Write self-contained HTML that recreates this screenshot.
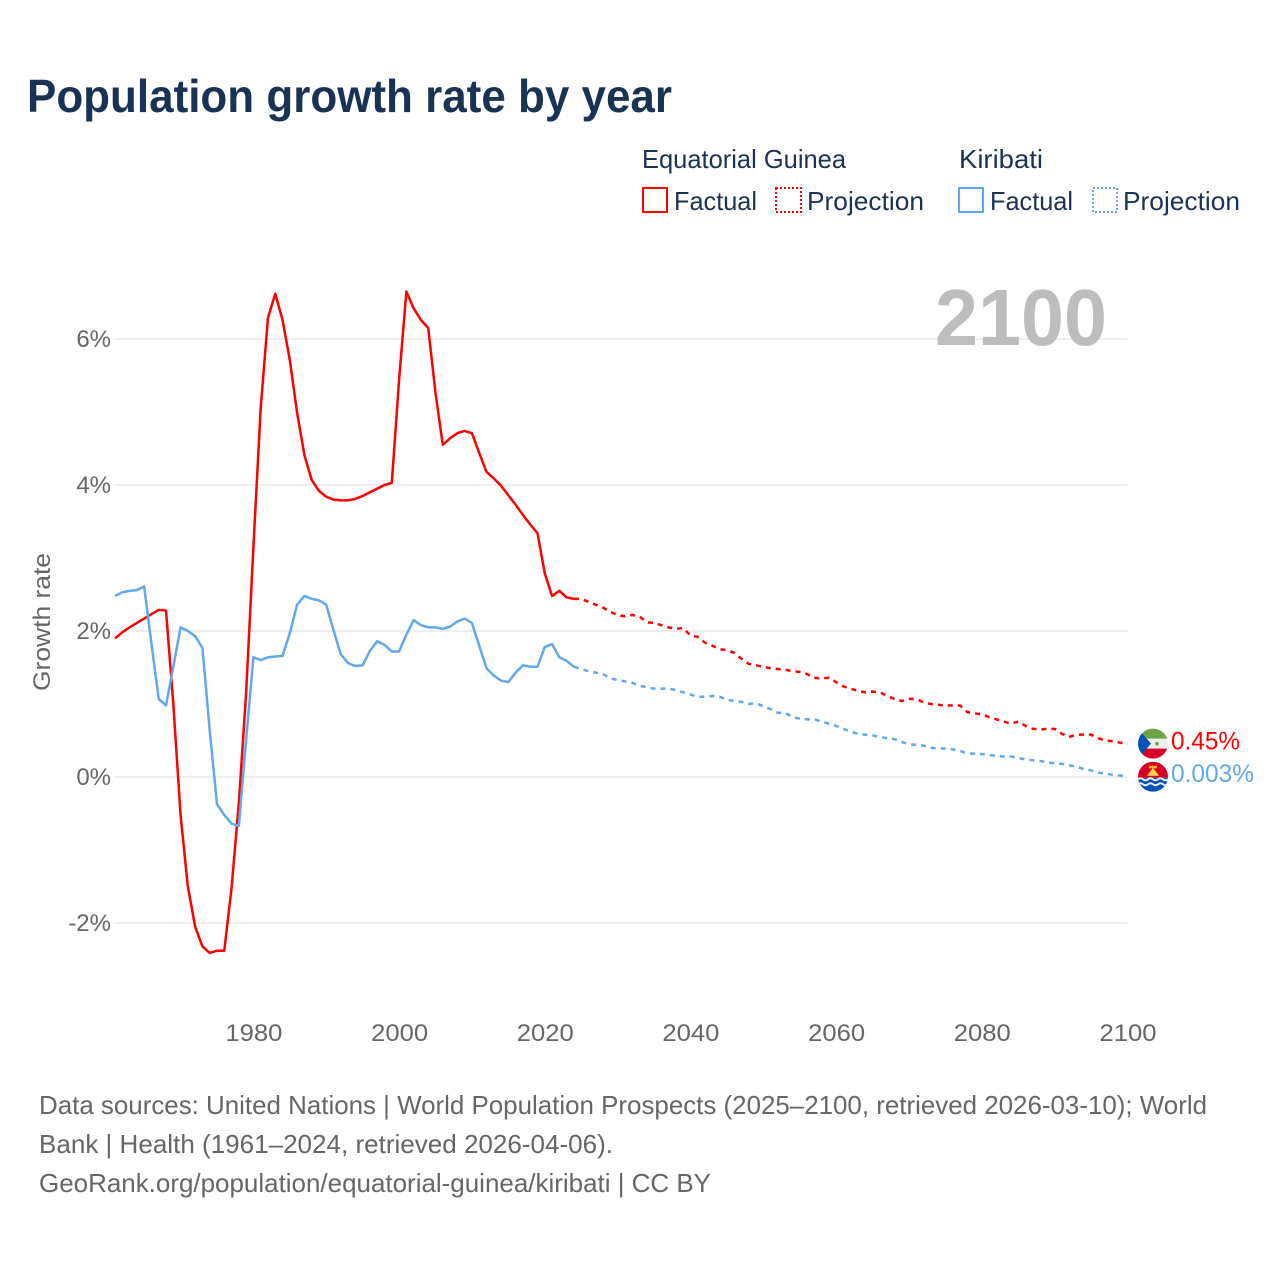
<!DOCTYPE html>
<html lang="en">
<head>
<meta charset="utf-8">
<title>Population growth rate by year</title>
<style>
html,body{margin:0;padding:0;background:#fff}
svg{display:block;font-family:"Liberation Sans",sans-serif}
</style>
</head>
<body>
<svg id="chart" xmlns="http://www.w3.org/2000/svg" width="1280" height="1280" viewBox="0 0 1280 1280">
  <defs>
    <clipPath id="flag-clip"><circle cx="0" cy="0" r="15"/></clipPath>
  </defs>
  <rect x="0" y="0" width="1280" height="1280" fill="#ffffff"/>
  <text x="27" y="112" font-size="46" font-weight="700" fill="#1a3355" textLength="645" lengthAdjust="spacingAndGlyphs">Population growth rate by year</text>

  <g font-size="26" fill="#1a3355">
    <text x="642" y="168" textLength="204" lengthAdjust="spacingAndGlyphs">Equatorial Guinea</text>
    <text x="959" y="168" textLength="84" lengthAdjust="spacingAndGlyphs">Kiribati</text>
    <rect x="643" y="188" width="24" height="24" fill="none" stroke="#ff0000" stroke-width="2"/>
    <text x="674" y="210" textLength="83" lengthAdjust="spacingAndGlyphs">Factual</text>
    <rect x="776" y="188" width="25" height="24" fill="none" stroke="#ff0000" stroke-width="2" stroke-dasharray="2 2"/>
    <text x="807" y="210" textLength="117" lengthAdjust="spacingAndGlyphs">Projection</text>
    <rect x="959" y="188" width="24" height="24" fill="none" stroke="#62a8ee" stroke-width="2"/>
    <text x="990" y="210" textLength="83" lengthAdjust="spacingAndGlyphs">Factual</text>
    <rect x="1093" y="188" width="24" height="24" fill="none" stroke="#62a8ee" stroke-width="2" stroke-dasharray="2 2"/>
    <text x="1123" y="210" textLength="117" lengthAdjust="spacingAndGlyphs">Projection</text>
  </g>

  <g id="grid"></g>
  <g id="y-labels"></g>
  <g id="x-labels"></g>
  <text x="935" y="345" font-size="80" font-weight="700" fill="#bdbdbd" textLength="172" lengthAdjust="spacingAndGlyphs">2100</text>
  <text transform="translate(50,622) rotate(-90)" text-anchor="middle" font-size="24" fill="#666666" textLength="138" lengthAdjust="spacingAndGlyphs">Growth rate</text>
  <g id="series"></g>

  <g id="flag-eq">
    <g clip-path="url(#flag-clip)">
      <rect x="-15" y="-15" width="30" height="30" fill="#eeeeee"/>
      <rect x="-15" y="-15" width="30" height="10" fill="#6da544"/>
      <rect x="-15" y="5" width="30" height="10" fill="#d80027"/>
      <polygon points="-15,-15 -15,15 -2,0" fill="#0052b4"/>
      <circle cx="4" cy="0" r="1.8" fill="#6da544"/>
    </g>
  </g>
  <g id="flag-ki">
    <g clip-path="url(#flag-clip)">
      <rect x="-15" y="-15" width="30" height="16" fill="#d80027"/>
      <rect x="-15" y="1" width="30" height="14" fill="#0052b4"/>
      <polygon points="-6,-1 0,-9 6,-1" fill="#ffda44"/>
      <rect x="-4" y="-11" width="8" height="2.5" fill="#ffb01f"/>
      <path d="M-15 2.5 q2.5 -2 5 0 t5 0 t5 0 t5 0 t5 0 t5 0" fill="none" stroke="#f0f0f0" stroke-width="2"/>
      <path d="M-15 7.5 q2.5 -2 5 0 t5 0 t5 0 t5 0 t5 0 t5 0" fill="none" stroke="#f0f0f0" stroke-width="2"/>
    </g>
  </g>
  <g id="end-labels"></g>

  <g font-size="26" fill="#666666">
    <text x="39" y="1114" textLength="1168" lengthAdjust="spacingAndGlyphs">Data sources: United Nations | World Population Prospects (2025–2100, retrieved 2026-03-10); World</text>
    <text x="39" y="1153" textLength="574" lengthAdjust="spacingAndGlyphs">Bank | Health (1961–2024, retrieved 2026-04-06).</text>
    <text x="39" y="1192" textLength="672" lengthAdjust="spacingAndGlyphs">GeoRank.org/population/equatorial-guinea/kiribati | CC BY</text>
  </g>
</svg>
<script>
const factualStartYear = 1961;
const projectionStartYear = 2024;
const xTickYears = [1980, 2000, 2020, 2040, 2060, 2080, 2100];
const yTickValues = [-2, 0, 2, 4, 6];
const yTickLabels = ["-2%", "0%", "2%", "4%", "6%"];
const equatorialGuineaFactual = [1.90,1.98,2.05,2.11,2.17,2.23,2.29,2.28,1.01,-0.52,-1.50,-2.05,-2.32,-2.41,-2.38,-2.38,-1.52,-0.36,1.15,3.15,5.05,6.29,6.62,6.26,5.71,4.99,4.41,4.07,3.92,3.84,3.80,3.79,3.79,3.81,3.85,3.90,3.95,4.00,4.03,5.44,6.65,6.42,6.26,6.15,5.26,4.55,4.64,4.71,4.74,4.71,4.44,4.18,4.09,3.99,3.86,3.73,3.59,3.46,3.34,2.79,2.48,2.55,2.46,2.44];
const equatorialGuineaProjection = [2.44,2.44,2.40,2.36,2.32,2.26,2.22,2.20,2.22,2.20,2.12,2.11,2.08,2.05,2.03,2.04,1.94,1.92,1.84,1.80,1.75,1.74,1.70,1.62,1.55,1.53,1.51,1.49,1.48,1.47,1.45,1.44,1.41,1.36,1.35,1.36,1.30,1.24,1.21,1.18,1.16,1.17,1.16,1.11,1.07,1.04,1.07,1.07,1.02,1.00,0.99,0.98,0.98,0.98,0.89,0.87,0.86,0.82,0.79,0.76,0.73,0.76,0.70,0.66,0.65,0.66,0.66,0.59,0.55,0.58,0.58,0.58,0.53,0.50,0.49,0.47,0.45];
const kiribatiFactual = [2.48,2.53,2.55,2.56,2.61,1.83,1.07,0.98,1.51,2.05,2.00,1.93,1.77,0.64,-0.37,-0.52,-0.64,-0.67,0.51,1.64,1.60,1.64,1.65,1.66,1.97,2.36,2.48,2.44,2.42,2.36,2.01,1.68,1.56,1.52,1.53,1.73,1.86,1.81,1.72,1.72,1.95,2.15,2.08,2.05,2.05,2.03,2.06,2.13,2.17,2.11,1.80,1.49,1.39,1.32,1.30,1.43,1.53,1.51,1.51,1.78,1.82,1.64,1.59,1.51];
const kiribatiProjection = [1.51,1.48,1.45,1.43,1.41,1.35,1.33,1.31,1.29,1.25,1.23,1.21,1.21,1.21,1.19,1.16,1.13,1.10,1.10,1.11,1.10,1.06,1.04,1.03,1.00,1.01,0.97,0.93,0.88,0.88,0.82,0.80,0.79,0.79,0.76,0.73,0.70,0.66,0.62,0.59,0.58,0.57,0.55,0.53,0.52,0.48,0.45,0.44,0.43,0.40,0.39,0.39,0.38,0.36,0.32,0.32,0.315,0.30,0.29,0.28,0.28,0.26,0.24,0.23,0.22,0.20,0.19,0.18,0.16,0.14,0.11,0.09,0.06,0.045,0.03,0.02,0.003];
const endLabels = ["0.45%", "0.003%"];

const NS = 'http://www.w3.org/2000/svg';
const RED = '#ff0000';
const BLUE = '#62a8ee';
const xScale = (year) => 115 + (year - 1961) * (1127.5 - 115) / 139;
const yScale = (value) => 777 - value * 73;

function pathFor(values, startYear) {
  return values.map((v, i) => (i ? 'L' : 'M') + xScale(startYear + i).toFixed(2) + ' ' + yScale(v).toFixed(2)).join(' ');
}

const grid = document.getElementById('grid');
const yLabels = document.getElementById('y-labels');
yTickValues.forEach((v, i) => {
  const line = document.createElementNS(NS, 'line');
  
  
  line.setAttribute('x1', xScale(1961));
  line.setAttribute('x2', xScale(2100));
  line.setAttribute('y1', yScale(v));
  line.setAttribute('y2', yScale(v));
  line.setAttribute('stroke', '#eeeeee');
  line.setAttribute('stroke-width', '2');
  grid.appendChild(line);

  const t = document.createElementNS(NS, 'text');
  
  
  t.setAttribute('x', 111);
  t.setAttribute('y', yScale(v) + 8);
  t.setAttribute('text-anchor', 'end');
  t.setAttribute('font-size', '24');
  t.setAttribute('fill', '#666666');
  t.textContent = yTickLabels[i];
  yLabels.appendChild(t);
});

const xLabels = document.getElementById('x-labels');
xTickYears.forEach((year) => {
  const t = document.createElementNS(NS, 'text');
  
  
  t.setAttribute('x', xScale(year) + 0.5);
  t.setAttribute('y', 1041);
  t.setAttribute('text-anchor', 'middle');
  t.setAttribute('font-size', '24');
  t.setAttribute('fill', '#666666');
  t.setAttribute('textLength', '57');
  t.setAttribute('lengthAdjust', 'spacingAndGlyphs');
  t.textContent = String(year);
  xLabels.appendChild(t);
});

const seriesGroup = document.getElementById('series');

const eqFactualLine = document.createElementNS(NS, 'path');


eqFactualLine.setAttribute('d', pathFor(equatorialGuineaFactual, factualStartYear));
eqFactualLine.setAttribute('fill', 'none');
eqFactualLine.setAttribute('stroke', RED);
eqFactualLine.setAttribute('stroke-width', '2.5');
eqFactualLine.setAttribute('stroke-linejoin', 'round');
seriesGroup.appendChild(eqFactualLine);

const eqProjectionLine = document.createElementNS(NS, 'path');


eqProjectionLine.setAttribute('d', pathFor(equatorialGuineaProjection, projectionStartYear));
eqProjectionLine.setAttribute('fill', 'none');
eqProjectionLine.setAttribute('stroke', RED);
eqProjectionLine.setAttribute('stroke-width', '2.5');
eqProjectionLine.setAttribute('stroke-dasharray', '5 5');
seriesGroup.appendChild(eqProjectionLine);

const kiFactualLine = document.createElementNS(NS, 'path');


kiFactualLine.setAttribute('d', pathFor(kiribatiFactual, factualStartYear));
kiFactualLine.setAttribute('fill', 'none');
kiFactualLine.setAttribute('stroke', BLUE);
kiFactualLine.setAttribute('stroke-width', '2.5');
kiFactualLine.setAttribute('stroke-linejoin', 'round');
seriesGroup.appendChild(kiFactualLine);

const kiProjectionLine = document.createElementNS(NS, 'path');


kiProjectionLine.setAttribute('d', pathFor(kiribatiProjection, projectionStartYear));
kiProjectionLine.setAttribute('fill', 'none');
kiProjectionLine.setAttribute('stroke', BLUE);
kiProjectionLine.setAttribute('stroke-width', '2.5');
kiProjectionLine.setAttribute('stroke-dasharray', '5 5');
seriesGroup.appendChild(kiProjectionLine);

const eqEndY = yScale(equatorialGuineaProjection[equatorialGuineaProjection.length - 1]);
const kiEndY = yScale(kiribatiProjection[kiribatiProjection.length - 1]);
document.getElementById('flag-eq').setAttribute('transform', 'translate(1153,' + (eqEndY - 0.5) + ')');
document.getElementById('flag-ki').setAttribute('transform', 'translate(1153,' + kiEndY + ')');

const endGroup = document.getElementById('end-labels');

const eqEndLabel = document.createElementNS(NS, 'text');


eqEndLabel.setAttribute('x', 1171);
eqEndLabel.setAttribute('y', eqEndY + 5.5);
eqEndLabel.setAttribute('font-size', '25');
eqEndLabel.setAttribute('fill', RED);
eqEndLabel.setAttribute('textLength', '69');
eqEndLabel.setAttribute('lengthAdjust', 'spacingAndGlyphs');
eqEndLabel.textContent = endLabels[0];
endGroup.appendChild(eqEndLabel);

const kiEndLabel = document.createElementNS(NS, 'text');


kiEndLabel.setAttribute('x', 1171);
kiEndLabel.setAttribute('y', kiEndY + 5);
kiEndLabel.setAttribute('font-size', '25');
kiEndLabel.setAttribute('fill', BLUE);
kiEndLabel.setAttribute('textLength', '83');
kiEndLabel.setAttribute('lengthAdjust', 'spacingAndGlyphs');
kiEndLabel.textContent = endLabels[1];
endGroup.appendChild(kiEndLabel);
</script>
</body>
</html>
